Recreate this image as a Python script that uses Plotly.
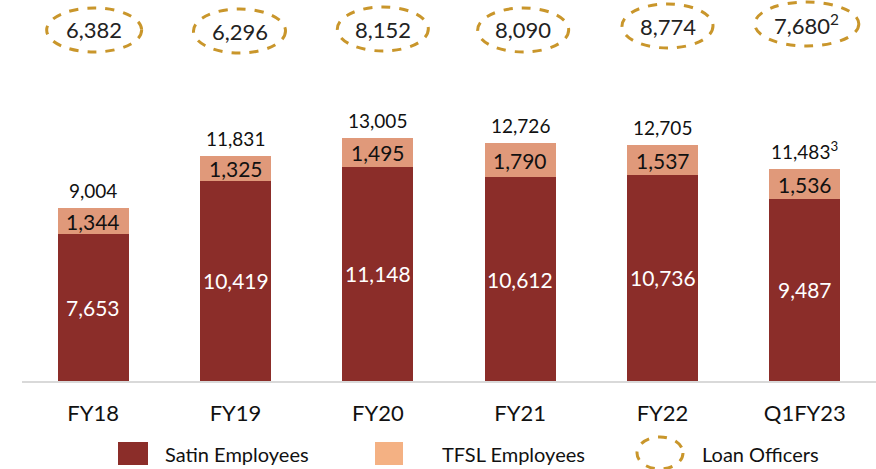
import plotly.graph_objects as go

categories = ["FY18", "FY19", "FY20", "FY21", "FY22", "Q1FY23"]
satin = [7653, 10419, 11148, 10612, 10736, 9487]
tfsl = [1344, 1325, 1495, 1790, 1537, 1536]
total_labels = ["9,004", "11,831", "13,005", "12,726", "12,705", "11,483<sup>3</sup>"]
loan_officers = ["6,382", "6,296", "8,152", "8,090", "8,774", "7,680<sup>2</sup>"]

SATIN_C = "#8B2D29"
TFSL_C = "#E0997A"
TFSL_LEG = "#F4B183"
GOLD = "#C9962B"
FONT = "Lato"

W, H = 876, 469
BASE = 381  # pixel y of baseline
PLOT_L = 22
PLOT_W = W - PLOT_L
YMAX = BASE / 0.0192
STEP = PLOT_W / 6

# small hand-placement offsets of the loan-officer ovals (pixels)
OVAL_DX = [1, 4, 5, 3, 5, 2]
OVAL_CY = [30, 31, 29, 30, 26, 24]
OVAL_W = [95, 92, 91, 91, 91, 104]

def py(Y):
    return (BASE - Y) / BASE

def px(X):
    return (X - PLOT_L) / PLOT_W

fig = go.Figure()
fig.add_trace(go.Bar(x=categories, y=satin, marker=dict(color=SATIN_C, line=dict(width=0)),
                     width=0.5, name="Satin Employees", showlegend=False, hoverinfo="skip"))
fig.add_trace(go.Bar(x=categories, y=tfsl, marker=dict(color=TFSL_C, line=dict(width=0)),
                     width=0.5, name="TFSL Employees", showlegend=False, hoverinfo="skip"))

ann = []
shapes = []
for i, c in enumerate(categories):
    s, t = satin[i], tfsl[i]
    ann.append(dict(x=c, y=s / 2, text=f"{s:,}", showarrow=False, xref="x", yref="y",
                    font=dict(family=FONT, size=21, color="white")))
    ann.append(dict(x=c, y=s + t / 2, text=f"{t:,}", showarrow=False, xref="x", yref="y",
                    font=dict(family=FONT, size=21, color="#111")))
    ann.append(dict(x=c, y=s + t, text=total_labels[i], showarrow=False, xref="x", yref="y",
                    yanchor="bottom", yshift=4, font=dict(family=FONT, size=19, color="#111")))
    cx = i + OVAL_DX[i] / STEP
    hw = OVAL_W[i] / 2 / STEP
    ann.append(dict(x=cx, y=py(OVAL_CY[i]), text=loan_officers[i], showarrow=False, xref="x", yref="paper",
                    yanchor="middle", font=dict(family=FONT, size=22, color="#222")))
    shapes.append(dict(type="circle", xref="x", yref="paper", x0=cx - hw, x1=cx + hw,
                       y0=py(OVAL_CY[i] + 22), y1=py(OVAL_CY[i] - 22),
                       line=dict(color=GOLD, width=3, dash="dash")))

# legend (manual)
shapes.append(dict(type="rect", xref="paper", yref="paper", x0=px(118), x1=px(148), y0=py(465), y1=py(442),
                   fillcolor=SATIN_C, line=dict(width=0)))
shapes.append(dict(type="rect", xref="paper", yref="paper", x0=px(375), x1=px(403), y0=py(465), y1=py(442),
                   fillcolor=TFSL_LEG, line=dict(width=0)))
shapes.append(dict(type="circle", xref="paper", yref="paper", x0=px(637), x1=px(683), y0=py(469), y1=py(437),
                   line=dict(color=GOLD, width=3, dash="dash")))
for X, txt in [(163, "Satin Employees"), (440, "TFSL Employees"), (700, "Loan Officers")]:
    ann.append(dict(x=px(X), y=py(454), xref="paper", yref="paper", text=txt, showarrow=False,
                    xanchor="left", yanchor="middle", font=dict(family=FONT, size=20, color="#111")))

fig.update_layout(
    width=W, height=H, barmode="stack", bargap=0.5,
    margin=dict(l=PLOT_L, r=0, t=0, b=H - BASE, pad=0),
    paper_bgcolor="white", plot_bgcolor="white",
    annotations=ann, shapes=shapes, showlegend=False,
    xaxis=dict(type="category", showline=True, linecolor="#D9D9D9", linewidth=2,
               showgrid=False, ticks="", tickfont=dict(family=FONT, size=22, color="#111"),
               ticklabelstandoff=12, range=[-0.5, 5.5]),
    yaxis=dict(range=[0, YMAX], visible=False, showgrid=False, zeroline=False),
)
fig.write_html("out.html", config={"displayModeBar": False},
               post_script="document.body.style.margin='0';document.body.style.overflow='hidden';")
